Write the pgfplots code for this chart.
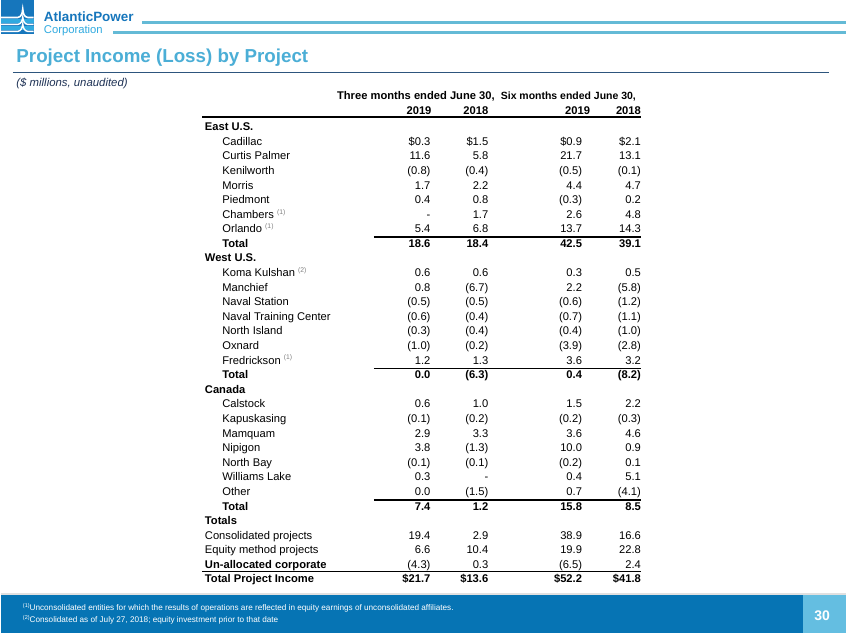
\documentclass[border=0pt]{standalone}
\usepackage{pgfplots}
\usepackage{pgfplotstable}
\pgfplotsset{compat=1.18}
\usepackage{fontspec}
\setmainfont{Liberation Sans}

\definecolor{titleblue}{RGB}{75,174,214}
\definecolor{logodark}{RGB}{22,118,188}
\definecolor{logolight}{RGB}{48,170,224}
\definecolor{logoline}{RGB}{100,186,214}
\definecolor{footblue}{RGB}{6,116,180}
\definecolor{pagebox}{RGB}{100,190,225}
\definecolor{ruleblue}{RGB}{45,85,125}
\definecolor{subcol}{RGB}{30,50,85}

\newcommand\tf{\fontsize{11.2}{13}\selectfont}
\protected\def\fn#1{\raisebox{4.2pt}{\fontsize{6.8}{7}\selectfont\color{gray}(#1)}}
\def\dashstr{-}
\def\stripminus-#1\relax{#1}
% negative values in parentheses, as in the accounts
\newcommand\acctfmt[1]{\edef\acctv{#1}%
  \ifx\acctv\dashstr -\else
    \ifdim\acctv pt<0pt (\expandafter\stripminus\acctv\relax)\else\acctv\fi
  \fi}
\newcommand\acctR[1]{\acctfmt{#1}}
\newcommand\acctB[1]{\bfseries\acctfmt{#1}}
\newcommand\acctD[1]{\$\acctfmt{#1}}
\newcommand\acctDB[1]{\bfseries\$\acctfmt{#1}}

% row index, then values: 3 months 2019, 2018; 6 months 2019, 2018
\pgfplotstableread{
r a b c d
2 11.6 5.8 21.7 13.1
3 -0.8 -0.4 -0.5 -0.1
4 1.7 2.2 4.4 4.7
5 0.4 0.8 -0.3 0.2
6 - 1.7 2.6 4.8
7 5.4 6.8 13.7 14.3
10 0.6 0.6 0.3 0.5
11 0.8 -6.7 2.2 -5.8
12 -0.5 -0.5 -0.6 -1.2
13 -0.6 -0.4 -0.7 -1.1
14 -0.3 -0.4 -0.4 -1.0
15 -1.0 -0.2 -3.9 -2.8
16 1.2 1.3 3.6 3.2
19 0.6 1.0 1.5 2.2
20 -0.1 -0.2 -0.2 -0.3
21 2.9 3.3 3.6 4.6
22 3.8 -1.3 10.0 0.9
23 -0.1 -0.1 -0.2 0.1
24 0.3 - 0.4 5.1
25 0.0 -1.5 0.7 -4.1
28 19.4 2.9 38.9 16.6
29 6.6 10.4 19.9 22.8
30 -4.3 0.3 -6.5 2.4
}\tblR
\pgfplotstableread{
r a b c d
8 18.6 18.4 42.5 39.1
17 0.0 -6.3 0.4 -8.2
26 7.4 1.2 15.8 8.5
}\tblB
\pgfplotstableread{
r a b c d
1 0.3 1.5 0.9 2.1
}\tblD
\pgfplotstableread{
r a b c d
31 21.7 13.6 52.2 41.8
}\tblDB

\pgfplotstableread[col sep=comma]{
r,lx,label
1,222,Cadillac
2,222,Curtis Palmer
3,222,Kenilworth
4,222,Morris
5,222,Piedmont
6,222,Chambers \fn{1}
7,222,Orlando \fn{1}
10,222,Koma Kulshan \fn{2}
11,222,Manchief
12,222,Naval Station
13,222,Naval Training Center
14,222,North Island
15,222,Oxnard
16,222,Fredrickson \fn{1}
19,222,Calstock
20,222,Kapuskasing
21,222,Mamquam
22,222,Nipigon
23,222,North Bay
24,222,Williams Lake
25,222,Other
28,204.5,Consolidated projects
29,204.5,Equity method projects
}\lblR
\pgfplotstableread[col sep=comma]{
r,lx,label
0,204.5,East U.S.
8,222,Total
9,204.5,West U.S.
17,222,Total
18,204.5,Canada
26,222,Total
27,204.5,Totals
30,204.5,Un-allocated corporate
31,204.5,Total Project Income
}\lblB

\pgfplotsset{
  numcol/.style={draw=none, mark=none, point meta=explicit symbolic,
    nodes near coords={#1{\pgfplotspointmeta}},
    every node near coord/.style={anchor=base east, inner sep=0pt, font=\tf}},
  labcol/.style={draw=none, mark=none, point meta=explicit symbolic,
    nodes near coords={#1\pgfplotspointmeta},
    every node near coord/.style={anchor=base west, inner sep=0pt, font=\tf}},
}
\newcommand\valcols[2]{%
  \addplot[numcol=#2] table[x expr=431, y expr=131+14.63*\thisrow{r}, meta=a] {#1};
  \addplot[numcol=#2] table[x expr=489, y expr=131+14.63*\thisrow{r}, meta=b] {#1};
  \addplot[numcol=#2] table[x expr=583, y expr=131+14.63*\thisrow{r}, meta=c] {#1};
  \addplot[numcol=#2] table[x expr=642, y expr=131+14.63*\thisrow{r}, meta=d] {#1};
}

\begin{document}
\begin{tikzpicture}
\begin{axis}[scale only axis, width=847pt, height=635pt,
  xmin=0, xmax=847, ymin=0, ymax=635, y dir=reverse,
  hide axis, clip=false]
% background
\fill[white] (axis cs:0,0) rectangle (axis cs:847,635);

% logo
\fill[logodark] (axis cs:0,0) rectangle (axis cs:33,34);
\fill[logolight] (axis cs:0,19) rectangle (axis cs:33,23);
\fill[logolight] (axis cs:0,26) rectangle (axis cs:33,30);
\draw[white, line width=1.6pt] (axis cs:0,17.5) -- (axis cs:17,17.5) .. controls (axis cs:20.5,17) and (axis cs:21.5,14) .. (axis cs:22,9) .. controls (axis cs:22.5,14) and (axis cs:23.5,17) .. (axis cs:27,17.5) -- (axis cs:33,17.5);
\draw[white, line width=1.4pt] (axis cs:0,24.5) -- (axis cs:17,24.5) .. controls (axis cs:20.5,24) and (axis cs:21.5,21) .. (axis cs:22,17) .. controls (axis cs:22.5,21) and (axis cs:23.5,24) .. (axis cs:27,24.5) -- (axis cs:33,24.5);
\draw[white, line width=1.4pt] (axis cs:0,31.5) -- (axis cs:17,31.5) .. controls (axis cs:20.5,31) and (axis cs:21.5,28) .. (axis cs:22,24) .. controls (axis cs:22.5,28) and (axis cs:23.5,31) .. (axis cs:27,31.5) -- (axis cs:33,31.5);
\node[anchor=base west, inner sep=0pt, text=logodark, font=\fontsize{13.5}{14}\selectfont\bfseries] at (axis cs:43,21.5) {AtlanticPower};
\node[anchor=base west, inner sep=0pt, text=logolight, font=\fontsize{11.3}{12}\selectfont] at (axis cs:43,33.3) {Corporation};
\draw[logoline, line width=3pt] (axis cs:142,23) -- (axis cs:847,23);
\draw[logoline, line width=3pt] (axis cs:113,32.3) -- (axis cs:847,32.3);

% title
\node[anchor=base west, inner sep=0pt, text=titleblue, font=\fontsize{18.8}{20}\selectfont\bfseries] at (axis cs:15.5,62.7) {Project Income (Loss) by Project};
\draw[ruleblue, line width=1pt] (axis cs:12,72.3) -- (axis cs:830,72.3);
\node[anchor=base west, inner sep=0pt, text=subcol, font=\fontsize{11.4}{12}\selectfont\itshape] at (axis cs:15.5,86.7) {(\$ millions, unaudited)};

% table header
\node[anchor=base west, inner sep=0pt, font=\tf\bfseries] at (axis cs:337,100) {Three months ended June 30,};
\node[anchor=base east, inner sep=0pt, font=\fontsize{10.5}{13}\selectfont\bfseries] at (axis cs:637,100) {Six months ended June 30,};
\node[anchor=base east, inner sep=0pt, font=\tf\bfseries] at (axis cs:432,114.5) {2019};
\node[anchor=base east, inner sep=0pt, font=\tf\bfseries] at (axis cs:489,114.5) {2018};
\node[anchor=base east, inner sep=0pt, font=\tf\bfseries] at (axis cs:591,114.5) {2019};
\node[anchor=base east, inner sep=0pt, font=\tf\bfseries] at (axis cs:642,114.5) {2018};
\draw[line width=1.8pt] (axis cs:202,117.6) -- (axis cs:642,117.6);

% rules above totals
\draw[line width=1.6pt] (axis cs:374,237.4) -- (axis cs:642,237.4);
\draw[line width=1.6pt] (axis cs:374,369.5) -- (axis cs:642,369.5);
\draw[line width=1.6pt] (axis cs:374,501.2) -- (axis cs:642,501.2);
\draw[line width=1.6pt] (axis cs:202,573) -- (axis cs:642,573);

% row labels
\addplot[labcol=\relax] table[x=lx, y expr=131+14.63*\thisrow{r}, meta=label] {\lblR};
\addplot[labcol=\bfseries] table[x=lx, y expr=131+14.63*\thisrow{r}, meta=label] {\lblB};

% value columns
\valcols{\tblR}{\acctR}
\valcols{\tblB}{\acctB}
\valcols{\tblD}{\acctD}
\valcols{\tblDB}{\acctDB}

% footer
\fill[black!12] (axis cs:0,595) rectangle (axis cs:847,596.5);
\fill[footblue] (axis cs:0,596.5) rectangle (axis cs:804,635);
\fill[pagebox] (axis cs:804,596.5) rectangle (axis cs:847,635);
\node[text=white, font=\fontsize{14}{14}\selectfont\bfseries] at (axis cs:823.5,617.5) {30};
\node[anchor=base west, inner sep=0pt, text=white, font=\fontsize{8.2}{9}\selectfont] at (axis cs:22,612) {\raisebox{3pt}{\fontsize{5.5}{6}\selectfont(1)}Unconsolidated entities for which the results of operations are reflected in equity earnings of unconsolidated affiliates.};
\node[anchor=base west, inner sep=0pt, text=white, font=\fontsize{8.2}{9}\selectfont] at (axis cs:22,624) {\raisebox{3pt}{\fontsize{5.5}{6}\selectfont(2)}Consolidated as of July 27, 2018; equity investment prior to that date};
\end{axis}
\end{tikzpicture}
\end{document}
